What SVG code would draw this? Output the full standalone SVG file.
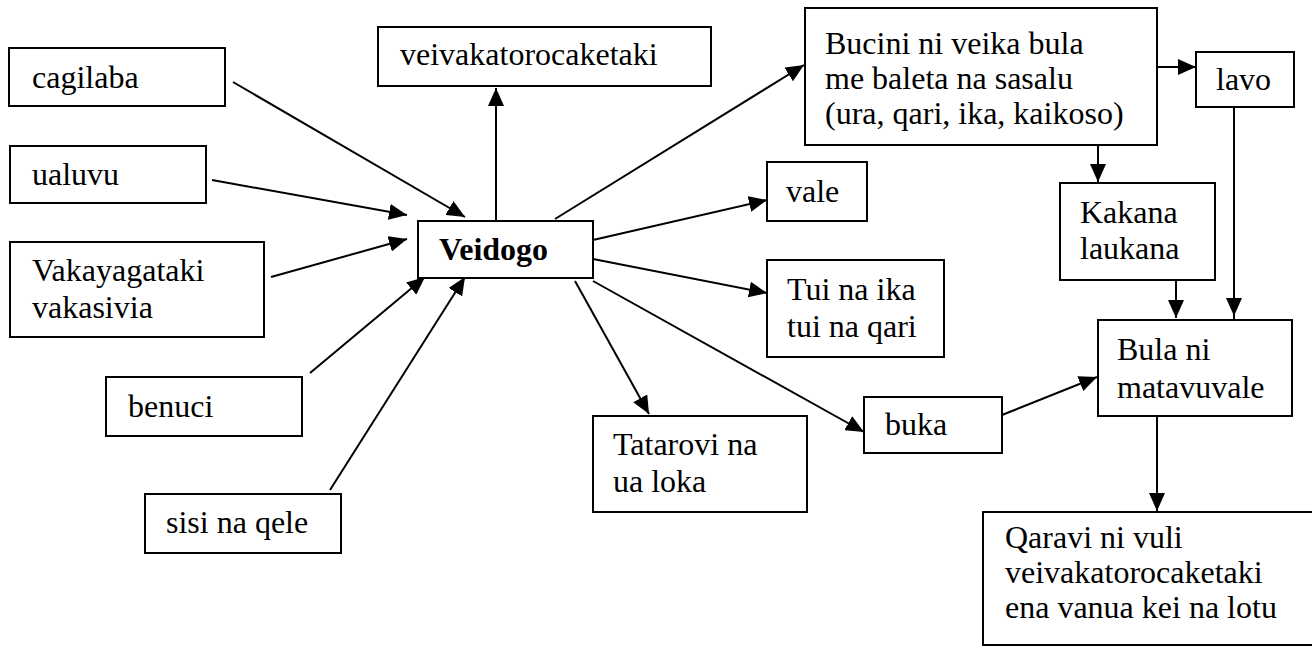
<svg xmlns="http://www.w3.org/2000/svg" width="1312" height="648" viewBox="0 0 1312 648">
<style>
.box{fill:#fff;stroke:#000;stroke-width:2}
.t{font-family:"Liberation Serif","Times New Roman",serif;font-size:32px;fill:#000}
.b{font-weight:bold}
.c{stroke:#000;stroke-width:2;fill:none;marker-end:url(#ah)}
</style>
<defs>
<marker id="ah" markerUnits="userSpaceOnUse" markerWidth="20" markerHeight="16" refX="18" refY="8" orient="auto">
<path d="M0,0 L18,8 L0,16 z" fill="#000"/>
</marker>
</defs>
<rect width="1312" height="648" fill="#fff"/>
<g id="connectors">
<line class="c" x1="233" y1="82" x2="465" y2="217"/>
<line class="c" x1="212" y1="180" x2="407" y2="215"/>
<line class="c" x1="271" y1="277" x2="407" y2="239"/>
<line class="c" x1="310" y1="373" x2="425" y2="277"/>
<line class="c" x1="330" y1="490" x2="465" y2="277"/>
<line class="c" x1="496" y1="221" x2="496" y2="88"/>
<line class="c" x1="555" y1="219" x2="804" y2="65"/>
<line class="c" x1="593" y1="240" x2="767" y2="200"/>
<line class="c" x1="593" y1="259" x2="767" y2="293"/>
<line class="c" x1="575" y1="281" x2="649" y2="414"/>
<line class="c" x1="593" y1="281" x2="864" y2="432"/>
<line class="c" x1="1002" y1="415" x2="1097" y2="377"/>
<line class="c" x1="1157" y1="67" x2="1196" y2="67"/>
<line class="c" x1="1098" y1="145" x2="1098" y2="182"/>
<line class="c" x1="1176" y1="280" x2="1176" y2="318"/>
<line class="c" x1="1234" y1="107" x2="1234" y2="316"/>
<line x1="1234" y1="314" x2="1234" y2="320" stroke="#000" stroke-width="2"/>
<line class="c" x1="1157" y1="416" x2="1157" y2="511"/>
</g>
<g id="cagilaba"><rect class="box" x="9" y="48" width="216" height="58"/><text class="t" x="32" y="88">cagilaba</text></g>
<g id="ualuvu"><rect class="box" x="10" y="146" width="196" height="57"/><text class="t" x="32" y="185">ualuvu</text></g>
<g id="vakayagataki"><rect class="box" x="10" y="242" width="254" height="95"/><text class="t" x="32" y="281">Vakayagataki</text><text class="t" x="32" y="318">vakasivia</text></g>
<g id="benuci"><rect class="box" x="106" y="377" width="196" height="59"/><text class="t" x="128" y="417">benuci</text></g>
<g id="sisi"><rect class="box" x="145" y="494" width="196" height="59"/><text class="t" x="166" y="533">sisi na qele</text></g>
<g id="veidogo"><rect class="box" x="418" y="221" width="175" height="57"/><text class="t b" x="439" y="260">Veidogo</text></g>
<g id="veivakatorocaketaki"><rect class="box" x="378" y="27" width="333" height="59"/><text class="t" x="400" y="65">veivakatorocaketaki</text></g>
<g id="bucini"><rect class="box" x="805" y="8" width="352" height="137"/><text class="t" x="825" y="54">Bucini ni veika bula</text><text class="t" x="825" y="89">me baleta na sasalu</text><text class="t" x="825" y="124">(ura, qari, ika, kaikoso)</text></g>
<g id="lavo"><rect class="box" x="1196" y="52" width="98" height="55"/><text class="t" x="1216" y="90">lavo</text></g>
<g id="vale"><rect class="box" x="767" y="162" width="100" height="59"/><text class="t" x="786" y="202">vale</text></g>
<g id="tui"><rect class="box" x="767" y="260" width="177" height="97"/><text class="t" x="787" y="300">Tui na ika</text><text class="t" x="787" y="337">tui na qari</text></g>
<g id="kakana"><rect class="box" x="1060" y="183" width="155" height="97"/><text class="t" x="1080" y="223">Kakana</text><text class="t" x="1080" y="259">laukana</text></g>
<g id="tatarovi"><rect class="box" x="593" y="416" width="214" height="96"/><text class="t" x="613" y="455">Tatarovi na</text><text class="t" x="613" y="492">ua loka</text></g>
<g id="buka"><rect class="box" x="864" y="397" width="138" height="56"/><text class="t" x="885" y="435">buka</text></g>
<g id="bula"><rect class="box" x="1098" y="320" width="194" height="96"/><text class="t" x="1117" y="360">Bula ni</text><text class="t" x="1117" y="398">matavuvale</text></g>
<g id="qaravi"><rect class="box" x="983" y="512" width="340" height="133"/><text class="t" x="1005" y="548">Qaravi ni vuli</text><text class="t" x="1005" y="583">veivakatorocaketaki</text><text class="t" x="1005" y="618">ena vanua kei na lotu</text></g>
</svg>
